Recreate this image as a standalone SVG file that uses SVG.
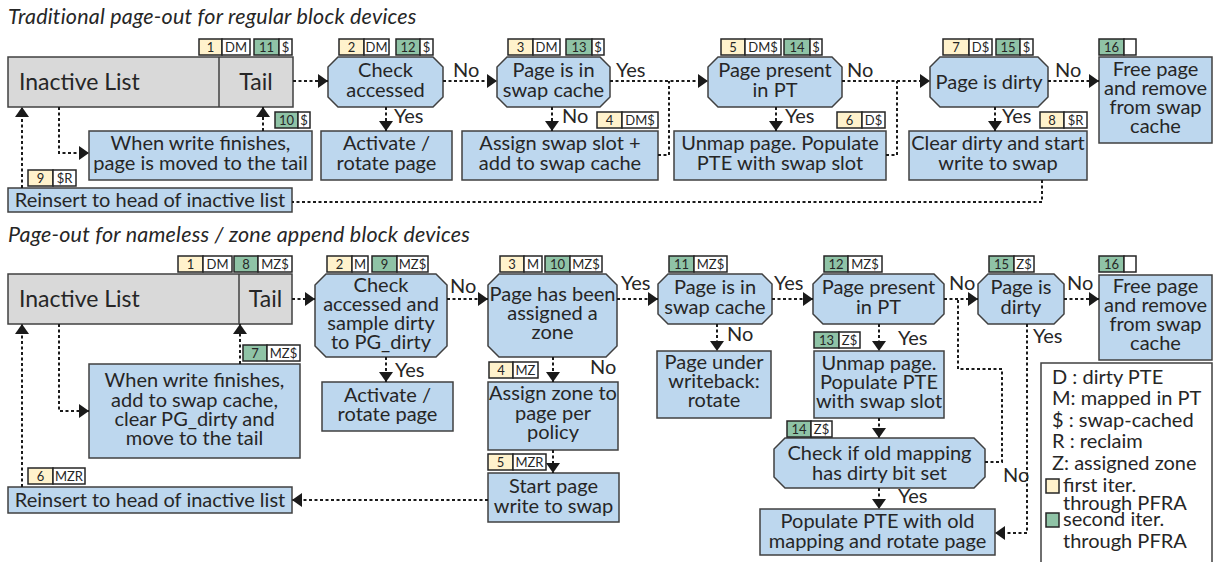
<svg xmlns="http://www.w3.org/2000/svg" width="1221" height="562" viewBox="0 0 1221 562">
<style>
text{font-family:Lato,"Liberation Sans",sans-serif;fill:#262626}
.n{fill:#bdd7ee;stroke:#404040;stroke-width:1.5}
.g{fill:#d9d9d9;stroke:#404040;stroke-width:1.5}
.b1{fill:#fff2cc;stroke:#262626;stroke-width:1.5}
.b2{fill:#8fc3a6;stroke:#262626;stroke-width:1.5}
.bw{fill:#fff;stroke:#262626;stroke-width:1.5}
.t{font-size:20px;text-anchor:middle}
.il{font-size:23px}
.tl{font-size:23px;text-anchor:middle}
.bt{font-size:13px;text-anchor:middle}
.lb{font-size:20px}
.ti{font-size:21.5px;font-style:italic;letter-spacing:0.2px}
.lg{font-size:20px}
.c{fill:none;stroke:#1a1a1a;stroke-width:2;stroke-dasharray:3 2.5}
.a{marker-end:url(#ah)}
</style>
<defs>
<marker id="ah" markerUnits="userSpaceOnUse" markerWidth="10" markerHeight="14" refX="10" refY="7" orient="auto">
<path d="M0,0 L10,7 L0,14 Z" fill="#1a1a1a"/>
</marker>
</defs>

<text class="ti" x="8" y="24">Traditional page-out for regular block devices</text>
<text class="ti" x="8" y="242">Page-out for nameless / zone append block devices</text>

<!-- TOP -->
<g id="t-inactive">
<rect class="g" x="8" y="57" width="285" height="50"/>
<line x1="219" y1="57" x2="219" y2="107" stroke="#404040" stroke-width="1.5"/>
<text class="il" x="19" y="90">Inactive List</text>
<text class="tl" x="256" y="90">Tail</text>
<rect class="b1" x="199" y="39" width="23" height="16"/><text class="bt" x="210.5" y="52">1</text>
<rect class="bw" x="222" y="39" width="28" height="16"/><text class="bt" x="236" y="52">DM</text>
<rect class="b2" x="254" y="39" width="25" height="16"/><text class="bt" x="266.5" y="52">11</text>
<rect class="bw" x="279" y="39" width="13" height="16"/><text class="bt" x="285.5" y="52">$</text>
</g>

<g id="t-check">
<path class="n" d="M338,57 H433 L443,67 V97 L433,107 H338 L328,97 V67 Z"/>
<text class="t" x="385.5" y="77">Check</text>
<text class="t" x="385.5" y="97">accessed</text>
<rect class="b1" x="339" y="39" width="25" height="16"/><text class="bt" x="351.5" y="52">2</text>
<rect class="bw" x="364" y="39" width="25" height="16"/><text class="bt" x="376.5" y="52">DM</text>
<rect class="b2" x="396" y="39" width="24" height="16"/><text class="bt" x="408" y="52">12</text>
<rect class="bw" x="420" y="39" width="13" height="16"/><text class="bt" x="426.5" y="52">$</text>
</g>

<g id="t-swapcache">
<path class="n" d="M507,57 H600 L610,67 V97 L600,107 H507 L497,97 V67 Z"/>
<text class="t" x="553.5" y="77">Page is in</text>
<text class="t" x="553.5" y="97">swap cache</text>
<rect class="b1" x="508" y="39" width="25" height="16"/><text class="bt" x="520.5" y="52">3</text>
<rect class="bw" x="533" y="39" width="27" height="16"/><text class="bt" x="546.5" y="52">DM</text>
<rect class="b2" x="566" y="39" width="26" height="16"/><text class="bt" x="579" y="52">13</text>
<rect class="bw" x="592" y="39" width="12" height="16"/><text class="bt" x="598" y="52">$</text>
</g>

<g id="t-present">
<path class="n" d="M718,57 H832 L842,67 V97 L832,107 H718 L708,97 V67 Z"/>
<text class="t" x="775" y="77">Page present</text>
<text class="t" x="775" y="97">in PT</text>
<rect class="b1" x="721" y="39" width="24" height="16"/><text class="bt" x="733" y="52">5</text>
<rect class="bw" x="745" y="39" width="36" height="16"/><text class="bt" x="763" y="52">DM$</text>
<rect class="b2" x="784" y="39" width="26" height="16"/><text class="bt" x="797" y="52">14</text>
<rect class="bw" x="810" y="39" width="12" height="16"/><text class="bt" x="816" y="52">$</text>
</g>

<g id="t-dirty">
<path class="n" d="M940,57 H1038 L1048,67 V97 L1038,107 H940 L930,97 V67 Z"/>
<text class="t" x="989" y="89">Page is dirty</text>
<rect class="b1" x="943" y="39" width="26" height="16"/><text class="bt" x="956" y="52">7</text>
<rect class="bw" x="969" y="39" width="23" height="16"/><text class="bt" x="980.5" y="52">D$</text>
<rect class="b2" x="996" y="39" width="24" height="16"/><text class="bt" x="1008" y="52">15</text>
<rect class="bw" x="1020" y="39" width="13" height="16"/><text class="bt" x="1026.5" y="52">$</text>
</g>

<g id="t-free">
<rect class="n" x="1099" y="57" width="113" height="86"/>
<text class="t" x="1155.5" y="76">Free page</text>
<text class="t" x="1155.5" y="95">and remove</text>
<text class="t" x="1155.5" y="114">from swap</text>
<text class="t" x="1155.5" y="133">cache</text>
<rect class="b2" x="1099" y="39" width="25" height="16"/><text class="bt" x="1111.5" y="52">16</text>
<rect class="bw" x="1124" y="39" width="12" height="16"/>
</g>

<g id="t-writefin">
<rect class="n" x="89" y="131" width="223" height="49"/>
<text class="t" x="200.5" y="150">When write finishes,</text>
<text class="t" x="200.5" y="170">page is moved to the tail</text>
<rect class="b2" x="275" y="112" width="23" height="16"/><text class="bt" x="286.5" y="125">10</text>
<rect class="bw" x="298" y="112" width="12" height="16"/><text class="bt" x="304" y="125">$</text>
</g>

<g id="t-activate">
<rect class="n" x="321" y="131" width="131" height="49"/>
<text class="t" x="386.5" y="150">Activate /</text>
<text class="t" x="386.5" y="170">rotate page</text>
</g>

<g id="t-assign">
<rect class="n" x="462" y="131" width="196" height="49"/>
<text class="t" x="560" y="150">Assign swap slot +</text>
<text class="t" x="560" y="170">add to swap cache</text>
<rect class="b1" x="597" y="112" width="25" height="16"/><text class="bt" x="609.5" y="125">4</text>
<rect class="bw" x="622" y="112" width="36" height="16"/><text class="bt" x="640" y="125">DM$</text>
</g>

<g id="t-unmap">
<rect class="n" x="674" y="131" width="212" height="49"/>
<text class="t" x="780" y="150">Unmap page. Populate</text>
<text class="t" x="780" y="170">PTE with swap slot</text>
<rect class="b1" x="837" y="112" width="25" height="16"/><text class="bt" x="849.5" y="125">6</text>
<rect class="bw" x="862" y="112" width="23" height="16"/><text class="bt" x="873.5" y="125">D$</text>
</g>

<g id="t-clear">
<rect class="n" x="909" y="131" width="178" height="49"/>
<text class="t" x="998" y="150">Clear dirty and start</text>
<text class="t" x="998" y="170">write to swap</text>
<rect class="b1" x="1040" y="112" width="24" height="16"/><text class="bt" x="1052" y="125">8</text>
<rect class="bw" x="1064" y="112" width="23" height="16"/><text class="bt" x="1075.5" y="125">$R</text>
</g>

<g id="t-reinsert">
<rect class="n" x="8" y="188" width="284" height="24"/>
<text class="t" x="150" y="207">Reinsert to head of inactive list</text>
<rect class="b1" x="28" y="170" width="25" height="16"/><text class="bt" x="40.5" y="183">9</text>
<rect class="bw" x="53" y="170" width="23" height="16"/><text class="bt" x="64.5" y="183">$R</text>
</g>

<!-- BOTTOM -->
<g id="b-inactive">
<rect class="g" x="8" y="274" width="284" height="50"/>
<line x1="239" y1="274" x2="239" y2="324" stroke="#404040" stroke-width="1.5"/>
<text class="il" x="19" y="307">Inactive List</text>
<text class="tl" x="265.5" y="307">Tail</text>
<rect class="b1" x="178" y="256" width="25" height="16"/><text class="bt" x="190.5" y="269">1</text>
<rect class="bw" x="203" y="256" width="29" height="16"/><text class="bt" x="217.5" y="269">DM</text>
<rect class="b2" x="234" y="256" width="24" height="16"/><text class="bt" x="246" y="269">8</text>
<rect class="bw" x="258" y="256" width="34" height="16"/><text class="bt" x="275" y="269">MZ$</text>
</g>

<g id="b-check">
<path class="n" d="M326,274 H436 L447,285 V346 L436,357 H326 L315,346 V285 Z"/>
<text class="t" x="381" y="292">Check</text>
<text class="t" x="381" y="311">accessed and</text>
<text class="t" x="381" y="330">sample dirty</text>
<text class="t" x="381" y="349">to PG_dirty</text>
<rect class="b1" x="327" y="256" width="25" height="16"/><text class="bt" x="339.5" y="269">2</text>
<rect class="bw" x="352" y="256" width="16" height="16"/><text class="bt" x="360" y="269">M</text>
<rect class="b2" x="372" y="256" width="25" height="16"/><text class="bt" x="384.5" y="269">9</text>
<rect class="bw" x="397" y="256" width="31" height="16"/><text class="bt" x="412.5" y="269">MZ$</text>
</g>

<g id="b-zone">
<path class="n" d="M499,274 H606 L617,285 V346 L606,357 H499 L488,346 V285 Z"/>
<text class="t" x="552.5" y="301">Page has been</text>
<text class="t" x="552.5" y="320">assigned a</text>
<text class="t" x="552.5" y="339">zone</text>
<rect class="b1" x="500" y="256" width="24" height="16"/><text class="bt" x="512" y="269">3</text>
<rect class="bw" x="524" y="256" width="18" height="16"/><text class="bt" x="533" y="269">M</text>
<rect class="b2" x="545" y="256" width="25" height="16"/><text class="bt" x="557.5" y="269">10</text>
<rect class="bw" x="570" y="256" width="32" height="16"/><text class="bt" x="586" y="269">MZ$</text>
</g>

<g id="b-swapcache">
<path class="n" d="M668,274 H762 L772,284 V314 L762,324 H668 L658,314 V284 Z"/>
<text class="t" x="715" y="294">Page is in</text>
<text class="t" x="715" y="314">swap cache</text>
<rect class="b2" x="669" y="256" width="25" height="16"/><text class="bt" x="681.5" y="269">11</text>
<rect class="bw" x="694" y="256" width="33" height="16"/><text class="bt" x="710.5" y="269">MZ$</text>
</g>

<g id="b-present">
<path class="n" d="M823,274 H934 L944,284 V314 L934,324 H823 L813,314 V284 Z"/>
<text class="t" x="878.5" y="294">Page present</text>
<text class="t" x="878.5" y="314">in PT</text>
<rect class="b2" x="824" y="256" width="24" height="16"/><text class="bt" x="836" y="269">12</text>
<rect class="bw" x="848" y="256" width="34" height="16"/><text class="bt" x="865" y="269">MZ$</text>
</g>

<g id="b-dirty">
<path class="n" d="M988,274 H1054 L1064,284 V314 L1054,324 H988 L978,314 V284 Z"/>
<text class="t" x="1021" y="294">Page is</text>
<text class="t" x="1021" y="314">dirty</text>
<rect class="b2" x="989" y="256" width="25" height="16"/><text class="bt" x="1001.5" y="269">15</text>
<rect class="bw" x="1014" y="256" width="20" height="16"/><text class="bt" x="1024" y="269">Z$</text>
</g>

<g id="b-free">
<rect class="n" x="1099" y="275" width="113" height="85"/>
<text class="t" x="1155.5" y="293">Free page</text>
<text class="t" x="1155.5" y="312">and remove</text>
<text class="t" x="1155.5" y="331">from swap</text>
<text class="t" x="1155.5" y="350">cache</text>
<rect class="b2" x="1099" y="256" width="25" height="16"/><text class="bt" x="1111.5" y="269">16</text>
<rect class="bw" x="1124" y="256" width="12" height="16"/>
</g>

<g id="b-writefin">
<rect class="n" x="89" y="364" width="211" height="94"/>
<text class="t" x="194.5" y="387">When write finishes,</text>
<text class="t" x="194.5" y="407">add to swap cache,</text>
<text class="t" x="194.5" y="426">clear PG_dirty and</text>
<text class="t" x="194.5" y="445">move to the tail</text>
<rect class="b2" x="243" y="345" width="24" height="16"/><text class="bt" x="255" y="358">7</text>
<rect class="bw" x="267" y="345" width="33" height="16"/><text class="bt" x="283.5" y="358">MZ$</text>
</g>

<g id="b-activate">
<rect class="n" x="322" y="382" width="131" height="49"/>
<text class="t" x="387.5" y="402">Activate /</text>
<text class="t" x="387.5" y="421">rotate page</text>
</g>

<g id="b-assignzone">
<rect class="n" x="488" y="382" width="130" height="68"/>
<text class="t" x="553" y="400">Assign zone to</text>
<text class="t" x="553" y="420">page per</text>
<text class="t" x="553" y="439">policy</text>
<rect class="b1" x="489" y="362" width="24" height="16"/><text class="bt" x="501" y="375">4</text>
<rect class="bw" x="513" y="362" width="25" height="16"/><text class="bt" x="525.5" y="375">MZ</text>
</g>

<g id="b-startwrite">
<rect class="n" x="488" y="473" width="131" height="49"/>
<text class="t" x="553.5" y="493">Start page</text>
<text class="t" x="553.5" y="513">write to swap</text>
<rect class="b1" x="488" y="454" width="25" height="16"/><text class="bt" x="500.5" y="467">5</text>
<rect class="bw" x="513" y="454" width="33" height="16"/><text class="bt" x="529.5" y="467">MZR</text>
</g>

<g id="b-writeback">
<rect class="n" x="657" y="351" width="114" height="67"/>
<text class="t" x="714" y="369">Page under</text>
<text class="t" x="714" y="388">writeback:</text>
<text class="t" x="714" y="407">rotate</text>
</g>

<g id="b-unmap">
<rect class="n" x="814" y="351" width="130" height="67"/>
<text class="t" x="879" y="370">Unmap page.</text>
<text class="t" x="879" y="389">Populate PTE</text>
<text class="t" x="879" y="408">with swap slot</text>
<rect class="b2" x="814" y="332" width="25" height="16"/><text class="bt" x="826.5" y="345">13</text>
<rect class="bw" x="839" y="332" width="21" height="16"/><text class="bt" x="849.5" y="345">Z$</text>
</g>

<g id="b-oldmap">
<path class="n" d="M785,438 H974 L985,449 V477 L974,488 H785 L774,477 V449 Z"/>
<text class="t" x="879.5" y="460">Check if old mapping</text>
<text class="t" x="879.5" y="480">has dirty bit set</text>
<rect class="b2" x="787" y="421" width="24" height="16"/><text class="bt" x="799" y="434">14</text>
<rect class="bw" x="811" y="421" width="21" height="16"/><text class="bt" x="821.5" y="434">Z$</text>
</g>

<g id="b-populate">
<rect class="n" x="760" y="509" width="235" height="46"/>
<text class="t" x="877.5" y="528">Populate PTE with old</text>
<text class="t" x="877.5" y="548">mapping and rotate page</text>
</g>

<g id="b-reinsert">
<rect class="n" x="8" y="487" width="284" height="26"/>
<text class="t" x="150" y="507">Reinsert to head of inactive list</text>
<rect class="b1" x="28" y="468" width="25" height="16"/><text class="bt" x="40.5" y="481">6</text>
<rect class="bw" x="53" y="468" width="32" height="16"/><text class="bt" x="69" y="481">MZR</text>
</g>

<g id="legend">
<rect x="1041" y="363" width="171" height="215" fill="#fff" stroke="#404040" stroke-width="1.5"/>
<text class="lg" x="1052" y="384">D : dirty PTE</text>
<text class="lg" x="1052" y="405">M: mapped in PT</text>
<text class="lg" x="1052" y="427">$ : swap-cached</text>
<text class="lg" x="1052" y="448">R : reclaim</text>
<text class="lg" x="1052" y="470">Z: assigned zone</text>
<rect class="b1" x="1046" y="479" width="13" height="14"/>
<text class="lg" x="1063" y="492">first iter.</text>
<text class="lg" x="1063" y="510">through PFRA</text>
<rect class="b2" x="1046" y="513" width="13" height="14"/>
<text class="lg" x="1063" y="526">second iter.</text>
<text class="lg" x="1063" y="548">through PFRA</text>
</g>

<g id="connectors">
<path class="c a" d="M293,81 H328"/>
<path class="c a" d="M443,81 H497"/>
<path class="c a" d="M610,81 H708"/>
<path class="c" d="M658,155 H669 V81"/>
<path class="c a" d="M842,81 H930"/>
<path class="c" d="M886,155 H897 V81"/>
<path class="c a" d="M1048,81 H1099"/>
<path class="c a" d="M386,107 V131"/>
<path class="c a" d="M552,107 V131"/>
<path class="c a" d="M776,107 V131"/>
<path class="c a" d="M995,107 V131"/>
<path class="c" d="M1042,180 V202 H292"/>
<path class="c a" d="M22,188 V107"/>
<path class="c a" d="M59,107 V153 H89"/>
<path class="c a" d="M263,131 V107"/>

<path class="c a" d="M292,299 H315"/>
<path class="c a" d="M447,299 H488"/>
<path class="c a" d="M617,299 H658"/>
<path class="c a" d="M772,299 H813"/>
<path class="c a" d="M944,299 H978"/>
<path class="c" d="M985,462 H1002 V369 H958 V299"/>
<path class="c a" d="M1064,299 H1099"/>
<path class="c a" d="M717,324 V351"/>
<path class="c a" d="M386,357 V382"/>
<path class="c a" d="M553,357 V382"/>
<path class="c a" d="M553,450 V473"/>
<path class="c a" d="M879,324 V351"/>
<path class="c a" d="M879,418 V438"/>
<path class="c a" d="M879,488 V509"/>
<path class="c a" d="M1027,324 V533 H995"/>
<path class="c a" d="M488,500 H292"/>
<path class="c a" d="M22,487 V324"/>
<path class="c a" d="M59,324 V411 H89"/>
<path class="c a" d="M240,364 V324"/>

<text class="lb" x="453" y="77">No</text>
<text class="lb" x="616" y="77">Yes</text>
<text class="lb" x="847" y="77">No</text>
<text class="lb" x="1055" y="77">No</text>
<text class="lb" x="394" y="123">Yes</text>
<text class="lb" x="562" y="123">No</text>
<text class="lb" x="785" y="123">Yes</text>
<text class="lb" x="1002" y="123">Yes</text>

<text class="lb" x="450" y="293">No</text>
<text class="lb" x="621" y="290">Yes</text>
<text class="lb" x="774" y="290">Yes</text>
<text class="lb" x="949" y="290">No</text>
<text class="lb" x="1067" y="290">No</text>
<text class="lb" x="727" y="341">No</text>
<text class="lb" x="395" y="377">Yes</text>
<text class="lb" x="590" y="374">No</text>
<text class="lb" x="898" y="345">Yes</text>
<text class="lb" x="1033" y="343">Yes</text>
<text class="lb" x="1003" y="482">No</text>
<text class="lb" x="898" y="503">Yes</text>
</g>
</svg>
